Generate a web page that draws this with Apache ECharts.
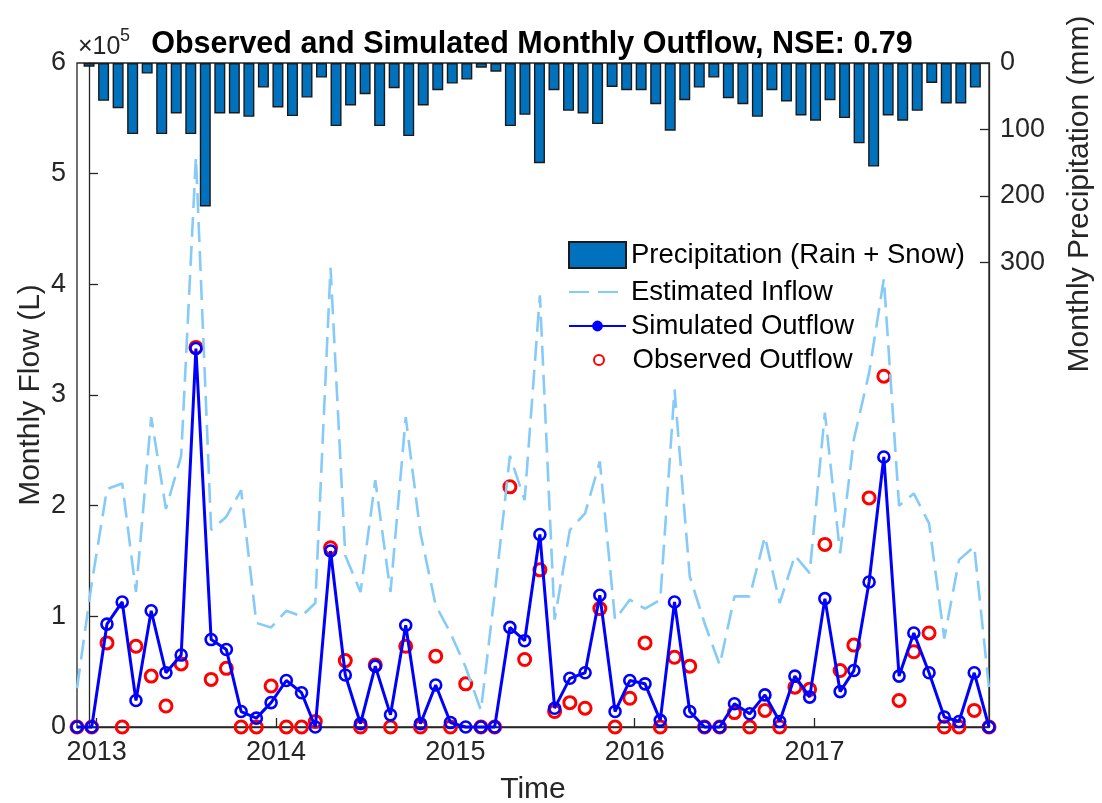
<!DOCTYPE html>
<html>
<head>
<meta charset="utf-8">
<script src="https://cdn.jsdelivr.net/npm/echarts@6/dist/echarts.min.js"></script>
<style>
  html, body { margin: 0; padding: 0; background: #fff; }
  #chart { width: 1102px; height: 803px; }
</style>
</head>
<body>
<div id="chart"></div>
<script>
// ---- data -------------------------------------------------------------
// Monthly series, first month November 2012 (JS months are 0-based).
const FIRST_MONTH = [2012, 10];
const SAMPLE_DAY = 22;
const YEAR_TICKS = [2013, 2014, 2015, 2016, 2017];
const PRECIP_TICKS = [0, 100, 200, 300];

// Monthly precipitation, rain + snow (mm)
const precipMM = [
  5.5, 57, 68, 107, 16, 107, 76, 107, 216, 76,
  76, 81, 37, 67, 80, 52, 22, 95, 64, 47,
  95, 38, 110, 64, 41, 31, 25, 7, 13, 95,
  78, 151, 41, 72, 76, 92, 36, 41, 41, 62,
  102, 56, 37, 22, 53, 62, 81, 41, 58, 79,
  87, 56, 83, 121, 156, 79, 87, 72, 30, 61,
  61, 37
];

// Estimated monthly inflow (L)
const inflowL = [
  35000, 130000, 215000, 220000, 122000, 280000, 197000, 245000, 515000, 178000,
  190000, 214000, 94000, 90000, 105000, 100000, 112000, 415000, 155000, 122000,
  223000, 122000, 280000, 175000, 110000, 85000, 54000, 15000, 120000, 245000,
  205000, 390000, 97000, 178000, 193000, 240000, 97000, 115000, 107000, 115000,
  305000, 136000, 94000, 56000, 118000, 118000, 172000, 112000, 155000, 139000,
  284000, 157000, 260000, 320000, 405000, 200000, 211000, 184000, 80000, 151000,
  163000, 35000
];

// Simulated monthly outflow (L)
const simulatedL = [
  0, 0, 93000, 113000, 24000, 105000, 49000, 65000, 342000, 79000,
  70000, 14000, 8000, 22000, 42000, 31000, 0, 159000, 47000, 3000,
  55000, 11000, 92000, 3000, 38000, 4000, 0, 0, 0, 90000,
  78000, 174000, 17000, 44000, 49000, 119000, 14000, 42000, 39000, 6000,
  113000, 14000, 0, 0, 21000, 12000, 29000, 5000, 46000, 27000,
  116000, 32000, 51000, 131000, 244000, 46000, 85000, 49000, 9000, 5000,
  49000, 0
];

// Observed monthly outflow (L)
const observedL = [
  0, 0, 76000, 0, 73000, 46000, 19000, 57000, 343000, 43000,
  53000, 0, 0, 37000, 0, 0, 5000, 162000, 60000, 0,
  56000, 0, 73000, 0, 64000, 0, 39000, 0, 0, 217000,
  61000, 142000, 14000, 22000, 17000, 107000, 0, 26000, 76000, 0,
  63000, 55000, 0, 0, 13000, 0, 15000, 0, 36000, 34000,
  165000, 51000, 74000, 207000, 317000, 24000, 68000, 85000, 0, 0,
  15000, 0
];

// ---- setup ------------------------------------------------------------
const FONT = '"Liberation Sans", Arial, Helvetica, sans-serif';
const INK = '#262626';
const N = simulatedL.length;

// timestamps (ms) on a linear time scale
const dates = [];
for (let i = 0; i < N; i++) {
  dates.push(new Date(FIRST_MONTH[0], FIRST_MONTH[1] + i, SAMPLE_DAY).getTime());
}
const yearStarts = YEAR_TICKS.map(y => new Date(y, 0, 1).getTime());
const pair = arr => arr.map((v, i) => [dates[i], v]);

// precipitation bars sit on their own month-index axis
const BAR_AXIS_MIN = -0.83;
const BAR_AXIS_MAX = 61.94;

const chart = echarts.init(document.getElementById('chart'), null, { renderer: 'canvas' });

const legendBase = {
  orient: 'vertical',
  padding: 0,
  itemGap: 0,
  selectedMode: false,
  itemWidth: 57,
  textStyle: { fontSize: 27.5, color: '#000', fontFamily: FONT, lineHeight: 30 }
};

const option = {
  animation: false,
  backgroundColor: '#fff',
  textStyle: { fontFamily: FONT },
  grid: {
    left: 77, right: 113, top: 63, bottom: 76,
    show: true, borderColor: INK, borderWidth: 1.3, backgroundColor: 'transparent',
    outerBoundsMode: 'none'
  },
  xAxis: [
    {
      type: 'value',
      min: dates[0],
      max: dates[N - 1],
      axisLine: { show: true, lineStyle: { color: INK, width: 1.3 } },
      axisTick: { show: true, inside: true, length: 9, customValues: yearStarts,
                  lineStyle: { color: INK, width: 1.3 } },
      axisLabel: { show: true, customValues: yearStarts, fontSize: 27, color: INK,
                   fontFamily: FONT, margin: 12,
                   formatter: v => String(new Date(v).getFullYear()) },
      splitLine: { show: false }
    },
    { type: 'value', min: BAR_AXIS_MIN, max: BAR_AXIS_MAX, show: false }
  ],
  yAxis: [
    {
      type: 'value', position: 'left', min: 0, max: 600000, interval: 100000,
      axisLine: { show: true, lineStyle: { color: INK, width: 1.3 } },
      axisTick: { show: true, inside: true, length: 9, lineStyle: { color: INK, width: 1.3 } },
      axisLabel: { fontSize: 27, color: INK, fontFamily: FONT, margin: 11,
                   formatter: v => String(Math.round(v / 100000)) },
      splitLine: { show: false }
    },
    {
      type: 'value', position: 'right', min: 0, max: 1000, inverse: true,
      axisLine: { show: true, lineStyle: { color: INK, width: 1.3 } },
      axisTick: { show: true, inside: true, length: 9, customValues: PRECIP_TICKS,
                  lineStyle: { color: INK, width: 1.3 } },
      axisLabel: { fontSize: 27, color: INK, fontFamily: FONT, margin: 11,
                   customValues: PRECIP_TICKS },
      splitLine: { show: false }
    }
  ],
  legend: [
    Object.assign({}, legendBase, { left: 568, top: 240, itemHeight: 26,
      data: [{ name: 'Precipitation (Rain + Snow)', icon: 'rect' }] }),
    Object.assign({}, legendBase, { left: 568, top: 277, itemHeight: 11,
      data: [{ name: 'Estimated Inflow',
               itemStyle: { color: 'rgba(0,0,0,0)', borderColor: 'rgba(0,0,0,0)', borderWidth: 0 } }] }),
    Object.assign({}, legendBase, { left: 568, top: 311, itemHeight: 11,
      data: [{ name: 'Simulated Outflow', itemStyle: { color: '#0000ff', borderColor: '#0000ff' } }] }),
    Object.assign({}, legendBase, { left: 593, top: 345, itemHeight: 10,
      data: ['Observed Outflow'] })
  ],
  series: [
    {
      name: 'Precipitation (Rain + Snow)',
      type: 'bar',
      xAxisIndex: 1, yAxisIndex: 1,
      data: precipMM.map((v, i) => [i, v]),
      barWidth: 11,
      itemStyle: { color: '#0072bd', borderColor: '#1a1a1a', borderWidth: 1.4 }
    },
    {
      name: 'Estimated Inflow',
      type: 'line',
      data: pair(inflowL),
      symbol: 'none',
      lineStyle: { color: '#86cbf8', width: 2.6, type: [20, 9] },
      itemStyle: { color: '#86cbf8' }
    },
    {
      name: 'Simulated Outflow',
      type: 'line',
      data: pair(simulatedL),
      symbol: 'circle',
      symbolSize: 11,
      clip: false,
      lineStyle: { color: '#0000ff', width: 3 },
      itemStyle: { color: 'rgba(0,0,0,0)', borderColor: '#0000ff', borderWidth: 2.6 }
    },
    {
      name: 'Observed Outflow',
      type: 'scatter',
      data: pair(observedL),
      symbol: 'circle',
      symbolSize: 12,
      clip: false,
      itemStyle: { color: 'rgba(0,0,0,0)', borderColor: '#ff0000', borderWidth: 3, opacity: 1 }
    }
  ],
  graphic: [
    { type: 'text', x: 532, y: 45, z: 10,
      style: { text: 'Observed and Simulated Monthly Outflow, NSE: 0.79', fontSize: 30.5,
               fontWeight: 'bold', fontFamily: FONT, fill: '#000', align: 'center', verticalAlign: 'middle' } },
    { type: 'text', x: 78, y: 47, z: 10,
      style: { text: '×10', fontSize: 25, fontFamily: FONT, fill: INK, align: 'left', verticalAlign: 'middle' } },
    { type: 'text', x: 120, y: 36, z: 10,
      style: { text: '5', fontSize: 18, fontFamily: FONT, fill: INK, align: 'left', verticalAlign: 'middle' } },
    { type: 'text', x: 533, y: 790, z: 10,
      style: { text: 'Time', fontSize: 30, fontFamily: FONT, fill: INK, align: 'center', verticalAlign: 'middle' } },
    { type: 'text', x: 31, y: 395, rotation: Math.PI / 2, z: 10,
      style: { text: 'Monthly Flow (L)', fontSize: 30, fontFamily: FONT, fill: INK, align: 'center', verticalAlign: 'middle' } },
    { type: 'text', x: 1080, y: 194, rotation: Math.PI / 2, z: 10,
      style: { text: 'Monthly Precipitation (mm)', fontSize: 30, fontFamily: FONT, fill: INK, align: 'center', verticalAlign: 'middle' } }
  ]
};

chart.setOption(option);
</script>
</body>
</html>
